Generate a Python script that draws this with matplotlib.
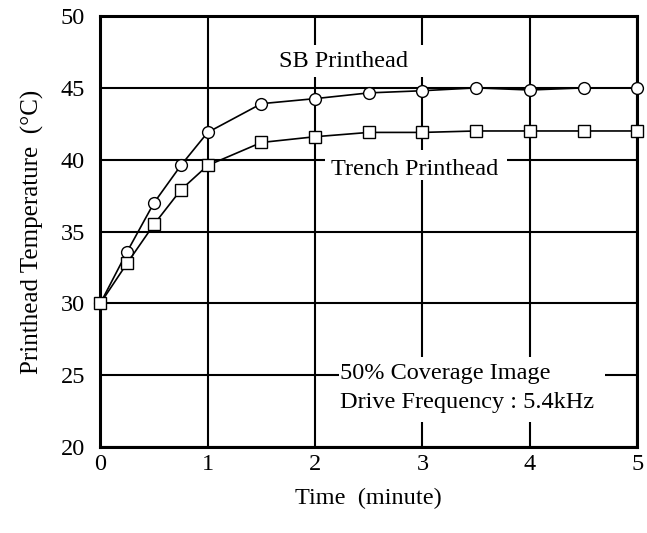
import matplotlib
matplotlib.use('Agg')
import matplotlib.pyplot as plt
from matplotlib.patches import Rectangle

# data
time_min = [0, 0.25, 0.5, 0.75, 1, 1.5, 2, 2.5, 3, 3.5, 4, 4.5, 5]
sb_temp = [30.0, 33.6, 37.0, 39.6, 41.9, 43.9, 44.25, 44.65, 44.8, 45.0, 44.85, 45.0, 45.0]
trench_temp = [30.0, 32.8, 35.5, 37.9, 39.6, 41.2, 41.6, 41.9, 41.9, 42.0, 42.0, 42.0, 42.0]
x_ticks = [0, 1, 2, 3, 4, 5]
y_ticks = [20, 25, 30, 35, 40, 45, 50]

plt.rcParams['font.family'] = ['Liberation Serif', 'DejaVu Serif']
FS = 17.5

fig = plt.figure(figsize=(6.47, 5.33), dpi=100)
ax = fig.add_axes([0.155, 0.161, 0.830, 0.809])

ax.set_xlim(0, 5)
ax.set_ylim(20, 50)
ax.set_xticks(x_ticks)
ax.set_yticks(y_ticks)
ax.tick_params(length=0, labelsize=FS)
ax.tick_params(axis='y', pad=11)
ax.tick_params(axis='x', pad=5)
ax.grid(True, color='black', lw=1.5)
ax.set_axisbelow(True)
for s in ax.spines.values():
    s.set_linewidth(2.2)
    s.set_zorder(3)

ax.plot(time_min, sb_temp, color='black', lw=1.2, marker='o', ms=8.5,
        mfc='white', mec='black', mew=1.0, zorder=4, clip_on=False)
ax.plot(time_min, trench_temp, color='black', lw=1.2, marker='s', ms=8.5,
        mfc='white', mec='black', mew=1.0, zorder=4, clip_on=False)

# white boxes that break the grid behind the annotations
for x0, x1, y0, y1 in [(1.6, 3.05, 45.75, 47.98),
                       (2.09, 3.79, 38.6, 40.67),
                       (2.22, 4.70, 21.75, 26.27)]:
    ax.add_patch(Rectangle((x0, y0), x1 - x0, y1 - y0, facecolor='white',
                           edgecolor='none', zorder=2))

ax.text(2.26, 46.8, 'SB Printhead', fontsize=FS, ha='center', va='center', zorder=5)
ax.text(2.93, 39.35, 'Trench Printhead', fontsize=FS, ha='center', va='center', zorder=5)
ax.text(2.23, 25.16, '50% Coverage Image', fontsize=FS, ha='left', va='center', zorder=5)
ax.text(2.23, 23.14, 'Drive Frequency : 5.4kHz', fontsize=FS, ha='left', va='center', zorder=5)

ax.set_xlabel('Time  (minute)', fontsize=FS, labelpad=9)
ax.set_ylabel('Printhead Temperature  (°C)', fontsize=18, labelpad=12)

fig.savefig('out.png', dpi=100)
